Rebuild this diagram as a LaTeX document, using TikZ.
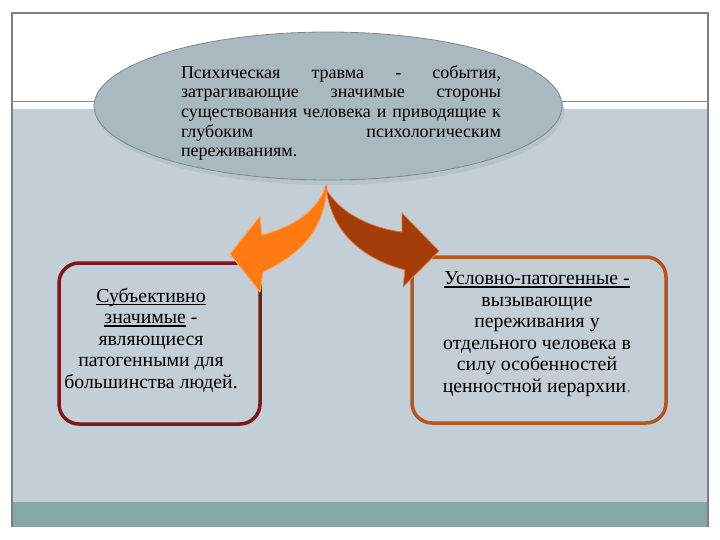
\documentclass[tikz,border=0pt]{standalone}
\usepackage{fontspec}
\setmainfont{Liberation Serif}
\usetikzlibrary{shapes.geometric}
\definecolor{framegray}{HTML}{7F7F7F}
\definecolor{linegray}{HTML}{8C8C8C}
\definecolor{bggray}{HTML}{C4CED6}
\definecolor{tealband}{HTML}{87A9A5}
\definecolor{ellfill}{HTML}{AAB8BF}
\definecolor{elldraw}{HTML}{7C8A90}
\definecolor{ellshadow}{HTML}{B6C3C9}
\definecolor{leftred}{HTML}{7A1A1A}
\definecolor{rightbrown}{HTML}{B4561F}
\definecolor{arrowor}{HTML}{FF7A12}
\definecolor{arroworline}{HTML}{FFA860}
\definecolor{arrowbr}{HTML}{A33C08}
\definecolor{arrowbrline}{HTML}{E87A3A}
\newsavebox{\ulbox}
\newcommand{\myul}[1]{\sbox{\ulbox}{#1}\rlap{\rule[-3pt]{\wd\ulbox}{1.3pt}}\usebox{\ulbox}}
\newcommand{\jline}[1]{\leavevmode\hbox to 320pt{#1}}
\tikzset{
  roundbox/.style={rectangle, rounded corners=20pt, line width=3.5pt, inner sep=0pt},
  boxtext/.style={align=center, inner sep=0pt, font=\fontsize{19.8pt}{21.5pt}\selectfont},
}
\begin{document}
\begin{tikzpicture}[x=1pt,y=-1pt]
\useasboundingbox (0,0) rectangle (720,540);
\fill[white] (0,0) rectangle (720,540);
\fill[bggray] (12,109) rectangle (708,502);
\fill[tealband] (12,502) rectangle (708,527);
\draw[framegray, line width=1.2pt] (12,527) -- (12,13) -- (708,13) -- (708,527);
\draw[linegray, line width=0.8pt] (12,101) -- (708,101);

% boxes
\node[roundbox, draw=leftred, minimum width=201pt, minimum height=161pt] (lbox) at (159.5,343.5) {};
\node[roundbox, draw=rightbrown, minimum width=254pt, minimum height=166pt] (rbox) at (539,340) {};

\node[boxtext] (ltext) at (151,340) {\myul{Субъективно}\\ \myul{значимые} -\\ являющиеся\\ патогенными для\\ большинства людей.};
\node[boxtext] (rtext) at (537,334) {\myul{Условно-патогенные -}\\ вызывающие\\ переживания у\\ отдельного человека в\\ силу особенностей\\ ценностной иерархии{\color{gray}.}};

% arrows
\filldraw[fill=arrowor, draw=arroworline, line width=1pt, line join=round]
  (326,185) .. controls (318,210) and (295,226) .. (262,235)
  -- (260,216) -- (230,254) -- (260,292) -- (263,272)
  .. controls (300,255) and (325,230) .. (327,186) -- cycle;
\filldraw[fill=arrowbr, draw=arrowbrline, line width=0.8pt, line join=round]
  (325,187) .. controls (338,212) and (370,228) .. (402,232)
  -- (402,213) -- (439,251) -- (403,287) -- (405,270)
  .. controls (360,258) and (330,230) .. (326,186) -- cycle;

% ellipse
\fill[ellshadow] (330,111) ellipse [x radius=234, y radius=74];
\node[ellipse, draw=elldraw, fill=ellfill, line width=0.8pt, minimum width=468pt, minimum height=148pt, inner sep=0pt] (trauma) at (328,106) {};
\node[align=left, text width=320pt, inner sep=0pt, font=\fontsize{18pt}{19.7pt}\selectfont] (ttext) at (341,113)
 {\jline{Психическая\hfill травма\hfill -\hfill события,}\\
  \jline{затрагивающие\hfill значимые\hfill стороны}\\
  \jline{существования\hfill человека\hfill и\hfill приводящие\hfill к}\\
  \jline{глубоким\hfill психологическим}\\
  переживаниям.};
\end{tikzpicture}
\end{document}
